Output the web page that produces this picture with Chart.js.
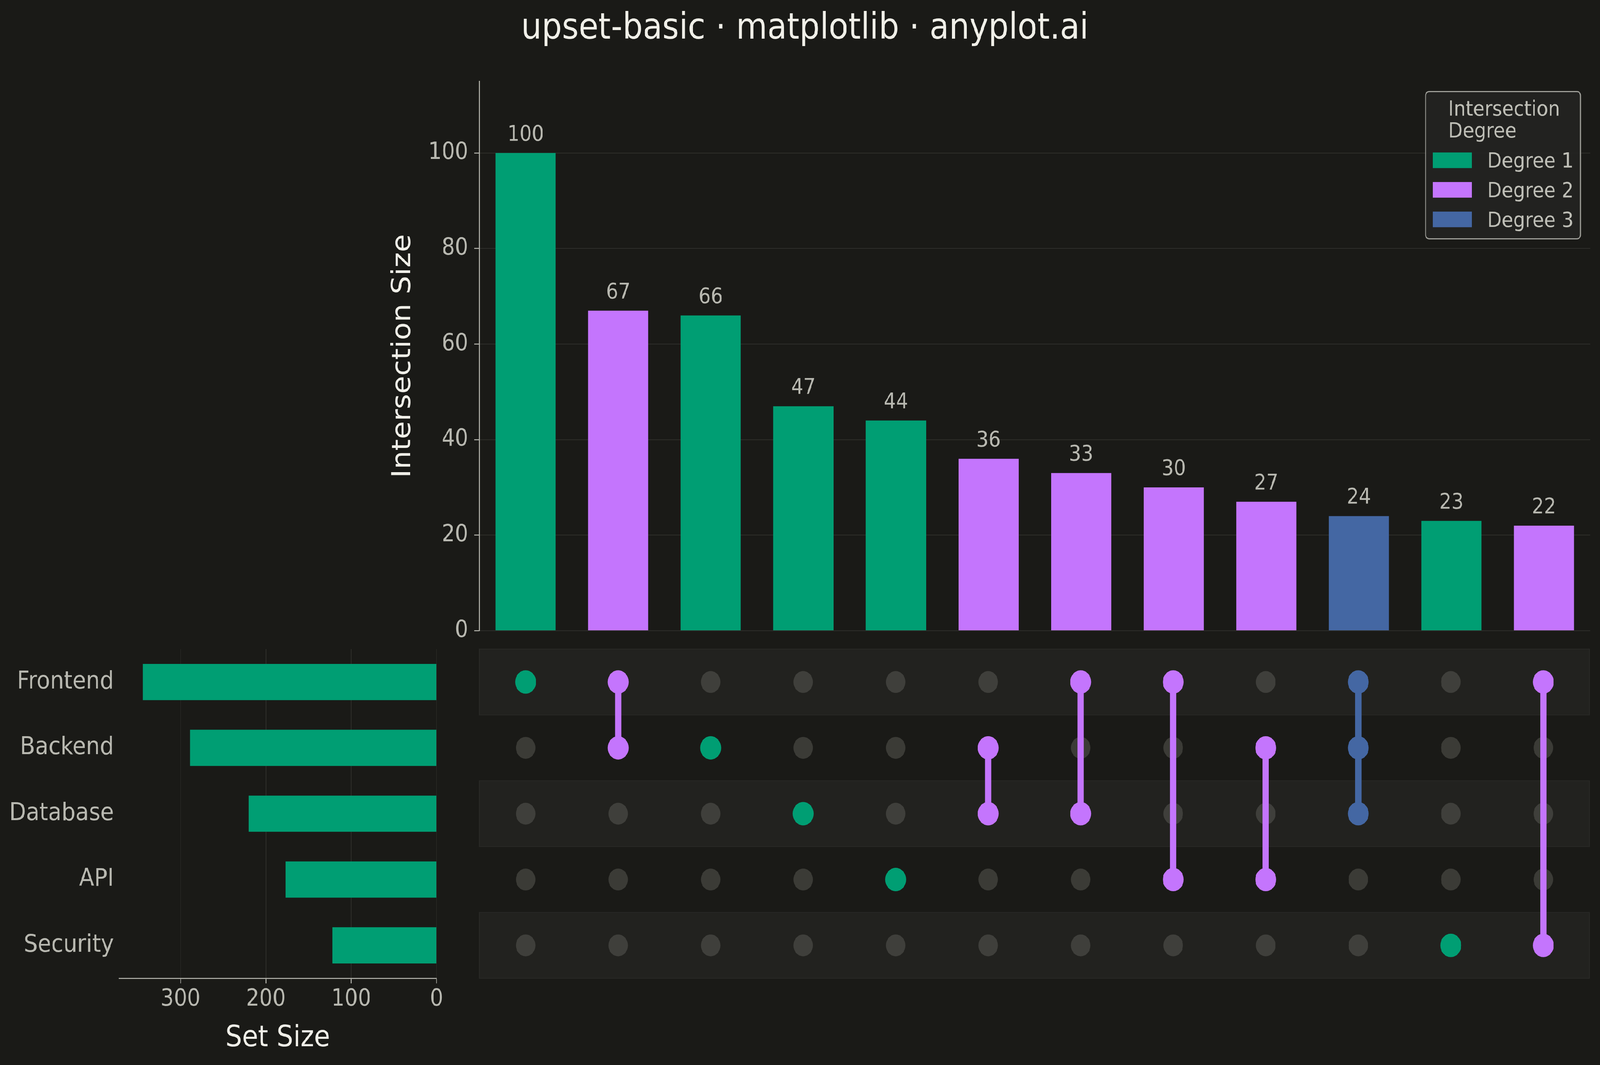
<!DOCTYPE html>
<html>
<head>
<meta charset="utf-8">
<script src="https://cdn.jsdelivr.net/npm/chart.js@4.4.1/dist/chart.umd.min.js"></script>
<style>
  html, body { margin: 0; padding: 0; background: #1A1A17; overflow: hidden; }
  #wrap { position: absolute; left: 0; top: 0; width: 4596px; height: 2727px; transform-origin: 0 0; }
  #wrap canvas { position: absolute; left: 0; top: 0; }
</style>
</head>
<body>
<div id="wrap">
  <canvas id="matrix" width="4596" height="2727"></canvas>
  <canvas id="sets" width="4596" height="2727"></canvas>
  <canvas id="bars" width="4596" height="2727"></canvas>
</div>
<script>
// data
const categories = ["Frontend", "Backend", "Database", "API", "Security"];
const setSizes = [344, 289, 220, 177, 122];
const intersectionSizes = [100, 67, 66, 47, 44, 36, 33, 30, 27, 24, 23, 22];
// which sets (row index into categories) take part in each intersection
const memberships = [[0], [0, 1], [1], [2], [3], [1, 2], [0, 2], [0, 3], [1, 3], [0, 1, 2], [4], [0, 4]];
const degreeLabels = ["Degree 1", "Degree 2", "Degree 3"];
const degreeColors = ["#009E73", "#C475FD", "#4467A3"];
const sizeTicks = [0, 20, 40, 60, 80, 100];
const setTicks = [0, 100, 200, 300];

const FONT = "'DejaVu Sans', sans-serif";
const TICK = "#B8B8B0";
const LABEL = "#F0EFE8";
const GRID = "#2E2E2A";

// the figure is laid out at 4596x2727; stretch it onto whatever the window really is
const wrap = document.getElementById("wrap");
function fitToWindow() {
  const sx = window.innerWidth / 4596;
  const sy = window.innerHeight / 2727;
  wrap.style.transform = "scale(" + sx + "," + sy + ")";
}
fitToWindow();
window.addEventListener("resize", fitToWindow);

const barColors = memberships.map(m => degreeColors[m.length - 1]);

// value labels above the intersection bars
const barLabels = {
  id: "barLabels",
  afterDatasetsDraw(chart) {
    const ctx = chart.ctx;
    ctx.save();
    ctx.font = "55px " + FONT;
    ctx.fillStyle = TICK;
    ctx.textAlign = "center";
    ctx.textBaseline = "alphabetic";
    chart.getDatasetMeta(0).data.forEach((bar, i) => {
      ctx.fillText(String(intersectionSizes[i]), bar.x, bar.y - 32);
    });
    ctx.restore();
  }
};

// legend box in the upper right corner
const degreeLegend = {
  id: "degreeLegend",
  afterDraw(chart) {
    const ctx = chart.ctx;
    const area = chart.chartArea;
    const w = 445, h = 377;
    const x = area.right - 28 - w;
    const y = area.top + 26;
    ctx.save();
    ctx.beginPath();
    ctx.roundRect(x, y, w, h, 10);
    ctx.fillStyle = "rgba(36,36,33,0.9)";
    ctx.fill();
    ctx.lineWidth = 3;
    ctx.strokeStyle = "#9E9E98";
    ctx.stroke();

    ctx.font = "54px " + FONT;
    ctx.fillStyle = "#BEBEB6";
    ctx.textAlign = "left";
    ctx.textBaseline = "alphabetic";
    ctx.fillText("Intersection", x + 65, y + 62);
    ctx.fillText("Degree", x + 65, y + 118);
    degreeLabels.forEach((lab, i) => {
      const top = y + 156 + i * 75.7;
      ctx.fillStyle = degreeColors[i];
      ctx.fillRect(x + 21, top, 112, 40);
      ctx.fillStyle = "#BEBEB6";
      ctx.fillText(lab, x + 177, top + 39);
    });
    ctx.restore();
  }
};

// Intersection size bars
new Chart(document.getElementById("bars"), {
  type: "bar",
  data: {
    labels: intersectionSizes.map((_, i) => "I" + (i + 1)),
    datasets: [{
      data: intersectionSizes,
      backgroundColor: barColors,
      categoryPercentage: 1,
      barPercentage: 0.65
    }]
  },
  options: {
    responsive: false,
    animation: false,
    devicePixelRatio: 1,
    layout: { padding: { left: 28, right: 0, top: 0, bottom: 1112 } },
    plugins: {
      legend: { display: false },
      tooltip: { enabled: false },
      title: {
        display: true,
        text: "upset-basic · matplotlib · anyplot.ai",
        color: LABEL,
        font: { family: FONT, size: 92, weight: "normal" },
        padding: { top: 20, bottom: 78 }
      }
    },
    scales: {
      x: { display: false },
      y: {
        min: 0,
        max: 115,
        afterBuildTicks: s => { s.ticks = sizeTicks.map(v => ({ value: v })); },
        afterFit: s => { s.width = 1349; },
        grid: { color: GRID, lineWidth: 2, tickLength: 15, tickColor: TICK, tickWidth: 2.5 },
        border: { display: true, color: TICK, width: 2.5 },
        ticks: { color: TICK, font: { family: FONT, size: 60 }, padding: 17 },
        title: {
          display: true,
          text: "Intersection Size",
          color: LABEL,
          font: { family: FONT, size: 75 },
          padding: { top: 1086, bottom: 0 }
        }
      },
      yPad: {
        position: "right",
        display: true,
        grid: { display: false, drawTicks: false },
        border: { display: false },
        ticks: { display: false },
        afterFit: s => { s.width = 28; }
      }
    }
  },
  plugins: [barLabels, degreeLegend]
});

// Set size bars (left)
new Chart(document.getElementById("sets"), {
  type: "bar",
  data: {
    labels: categories,
    datasets: [{
      data: setSizes,
      backgroundColor: "#009E73",
      categoryPercentage: 1,
      barPercentage: 0.55
    }]
  },
  options: {
    indexAxis: "y",
    responsive: false,
    animation: false,
    devicePixelRatio: 1,
    layout: { padding: { left: 0, right: 3342, top: 1662, bottom: 22 } },
    plugins: { legend: { display: false }, tooltip: { enabled: false } },
    scales: {
      x: {
        position: "bottom",
        reverse: true,
        min: 0,
        max: 372,
        afterBuildTicks: s => { s.ticks = setTicks.map(v => ({ value: v })); },
        afterFit: s => { s.height = 200; },
        grid: { color: GRID, lineWidth: 2, tickLength: 13, tickColor: TICK, tickWidth: 2.5 },
        border: { display: true, color: TICK, width: 2.5 },
        ticks: { color: TICK, font: { family: FONT, size: 60 }, padding: 5 },
        title: {
          display: true,
          text: "Set Size",
          color: LABEL,
          font: { family: FONT, size: 75 },
          padding: { top: 0, bottom: 0 }
        }
      },
      y: {
        afterFit: s => { s.width = 342; },
        grid: { display: false, drawTicks: false },
        border: { display: false },
        ticks: { color: TICK, font: { family: FONT, size: 63 }, padding: 15 }
      }
    }
  }
});

// Membership matrix
const inactivePts = [];
const activePts = [];
const activeColors = [];
memberships.forEach((m, col) => {
  categories.forEach((_, row) => {
    if (m.includes(row)) {
      activePts.push({ x: col, y: row });
      activeColors.push(degreeColors[m.length - 1]);
    } else {
      inactivePts.push({ x: col, y: row });
    }
  });
});

const connectors = [];
memberships.forEach((m, col) => {
  if (m.length < 2) return;
  connectors.push({
    type: "line",
    data: [{ x: col, y: Math.min(...m) }, { x: col, y: Math.max(...m) }],
    borderColor: degreeColors[m.length - 1],
    borderWidth: 18,
    pointRadius: 0,
    showLine: true,
    order: 2
  });
});

const rowBands = {
  id: "rowBands",
  beforeDatasetsDraw(chart) {
    const { ctx, chartArea, scales } = chart;
    ctx.save();
    categories.forEach((_, row) => {
      if (row % 2 !== 0) return;
      const y0 = scales.y.getPixelForValue(row - 0.5);
      const y1 = scales.y.getPixelForValue(row + 0.5);
      ctx.fillStyle = "#22221F";
      ctx.fillRect(chartArea.left, y0, chartArea.right - chartArea.left, y1 - y0);
      ctx.strokeStyle = "#292926";
      ctx.lineWidth = 2;
      ctx.strokeRect(chartArea.left, y0, chartArea.right - chartArea.left, y1 - y0);
    });
    ctx.restore();
  }
};

new Chart(document.getElementById("matrix"), {
  type: "scatter",
  data: {
    datasets: [
      {
        data: activePts,
        pointBackgroundColor: activeColors,
        pointBorderWidth: 0,
        pointRadius: 30,
        order: 1
      },
      ...connectors,
      {
        data: inactivePts,
        pointBackgroundColor: "rgba(100,100,94,0.45)",
        pointBorderWidth: 0,
        pointRadius: 28,
        order: 3
      }
    ]
  },
  options: {
    responsive: false,
    animation: false,
    devicePixelRatio: 1,
    layout: { padding: { left: 1377, right: 28, top: 1662, bottom: 222 } },
    plugins: { legend: { display: false }, tooltip: { enabled: false } },
    scales: {
      x: { type: "linear", min: -0.5, max: 11.5, display: false },
      y: { type: "linear", min: -0.5, max: 4.5, reverse: true, display: false }
    }
  },
  plugins: [rowBands]
});
</script>
</body>
</html>
